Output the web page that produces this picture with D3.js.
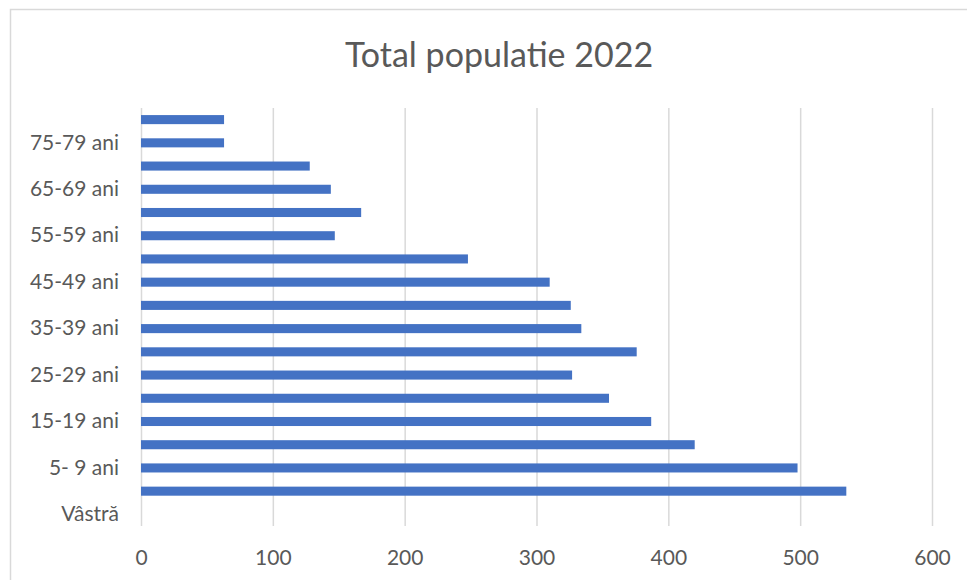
<!DOCTYPE html>
<html>
<head>
<meta charset="utf-8">
<script src="https://cdn.jsdelivr.net/npm/d3@7"></script>
<style>
  html, body { margin: 0; padding: 0; background: #fff; }
  svg { display: block; }
</style>
</head>
<body>
<svg id="chart" width="967" height="580"></svg>
<script>
// Age groups, bottom to top (first category sits at the bottom of the axis)
const categories = [
  "Vâstră", "0-4 ani", "5- 9 ani", "10-14 ani", "15-19 ani", "20-24 ani",
  "25-29 ani", "30-34 ani", "35-39 ani", "40-44 ani", "45-49 ani", "50-54 ani",
  "55-59 ani", "60-64 ani", "65-69 ani", "70-74 ani", "75-79 ani", "80+ ani"
];
// Population per age group (header row has no value)
const values = [
  null, 535, 498, 420, 387, 355,
  327, 376, 334, 326, 310, 248,
  147, 167, 144, 128, 63, 63
];
// Only every other category label is shown on the axis
const shownLabels = [
  "Vâstră", "5- 9 ani", "15-19 ani", "25-29 ani", "35-39 ani",
  "45-49 ani", "55-59 ani", "65-69 ani", "75-79 ani"
];
const xTicks = [0, 100, 200, 300, 400, 500, 600];
const title = "Total populatie 2022";

const svg = d3.select("#chart");
const plot = { left: 141, right: 932, top: 108, bottom: 526 };
const font = "Lato, 'Open Sans', sans-serif";
const textColor = "#595959";

// chart-area border (continues past the right and bottom edges)
svg.append("rect")
  .attr("x", 10.5).attr("y", 9.5)
  .attr("width", 1200).attr("height", 1200)
  .attr("fill", "#fff")
  .attr("stroke", "#d9d9d9")
  .attr("stroke-width", 1.5);

svg.append("text")
  .attr("x", 499).attr("y", 67)
  .attr("text-anchor", "middle")
  .attr("font-family", font)
  .attr("font-size", 34)
  .attr("fill", textColor)
  .text(title);

const x = d3.scaleLinear().domain([0, 600]).range([plot.left, plot.right]);
const y = d3.scaleBand()
  .domain(categories.slice().reverse())
  .range([plot.top, plot.bottom])
  .paddingInner(0.61)
  .paddingOuter(0.305);

// vertical gridlines
const xAxis = d3.axisBottom(x)
  .tickValues(xTicks)
  .tickSize(-(plot.bottom - plot.top))
  .tickFormat(d3.format("d"));
const gx = svg.append("g")
  .attr("transform", `translate(0,${plot.bottom})`)
  .call(xAxis);
gx.select(".domain").remove();
gx.selectAll(".tick line")
  .attr("stroke", "#d9d9d9")
  .attr("stroke-width", 1.5);
gx.selectAll(".tick text")
  .attr("dy", 0)
  .attr("y", 39)
  .attr("font-family", font)
  .attr("font-size", 21)
  .attr("fill", textColor);

// bars
const data = categories.map((c, i) => ({ c, v: values[i] })).filter(d => d.v != null);
svg.append("g").selectAll("rect")
  .data(data)
  .join("rect")
  .attr("x", x(0))
  .attr("y", d => y(d.c))
  .attr("width", d => x(d.v) - x(0))
  .attr("height", y.bandwidth())
  .attr("fill", "#4472c4");

// category axis
const yAxis = d3.axisLeft(y)
  .tickValues(shownLabels)
  .tickSize(0)
  .tickPadding(0);
const gy = svg.append("g")
  .attr("transform", `translate(119,0)`)
  .call(yAxis);
gy.select(".domain").remove();
gy.selectAll(".tick text")
  .attr("font-family", font)
  .attr("font-size", 21)
  .attr("fill", textColor);
</script>
</body>
</html>
